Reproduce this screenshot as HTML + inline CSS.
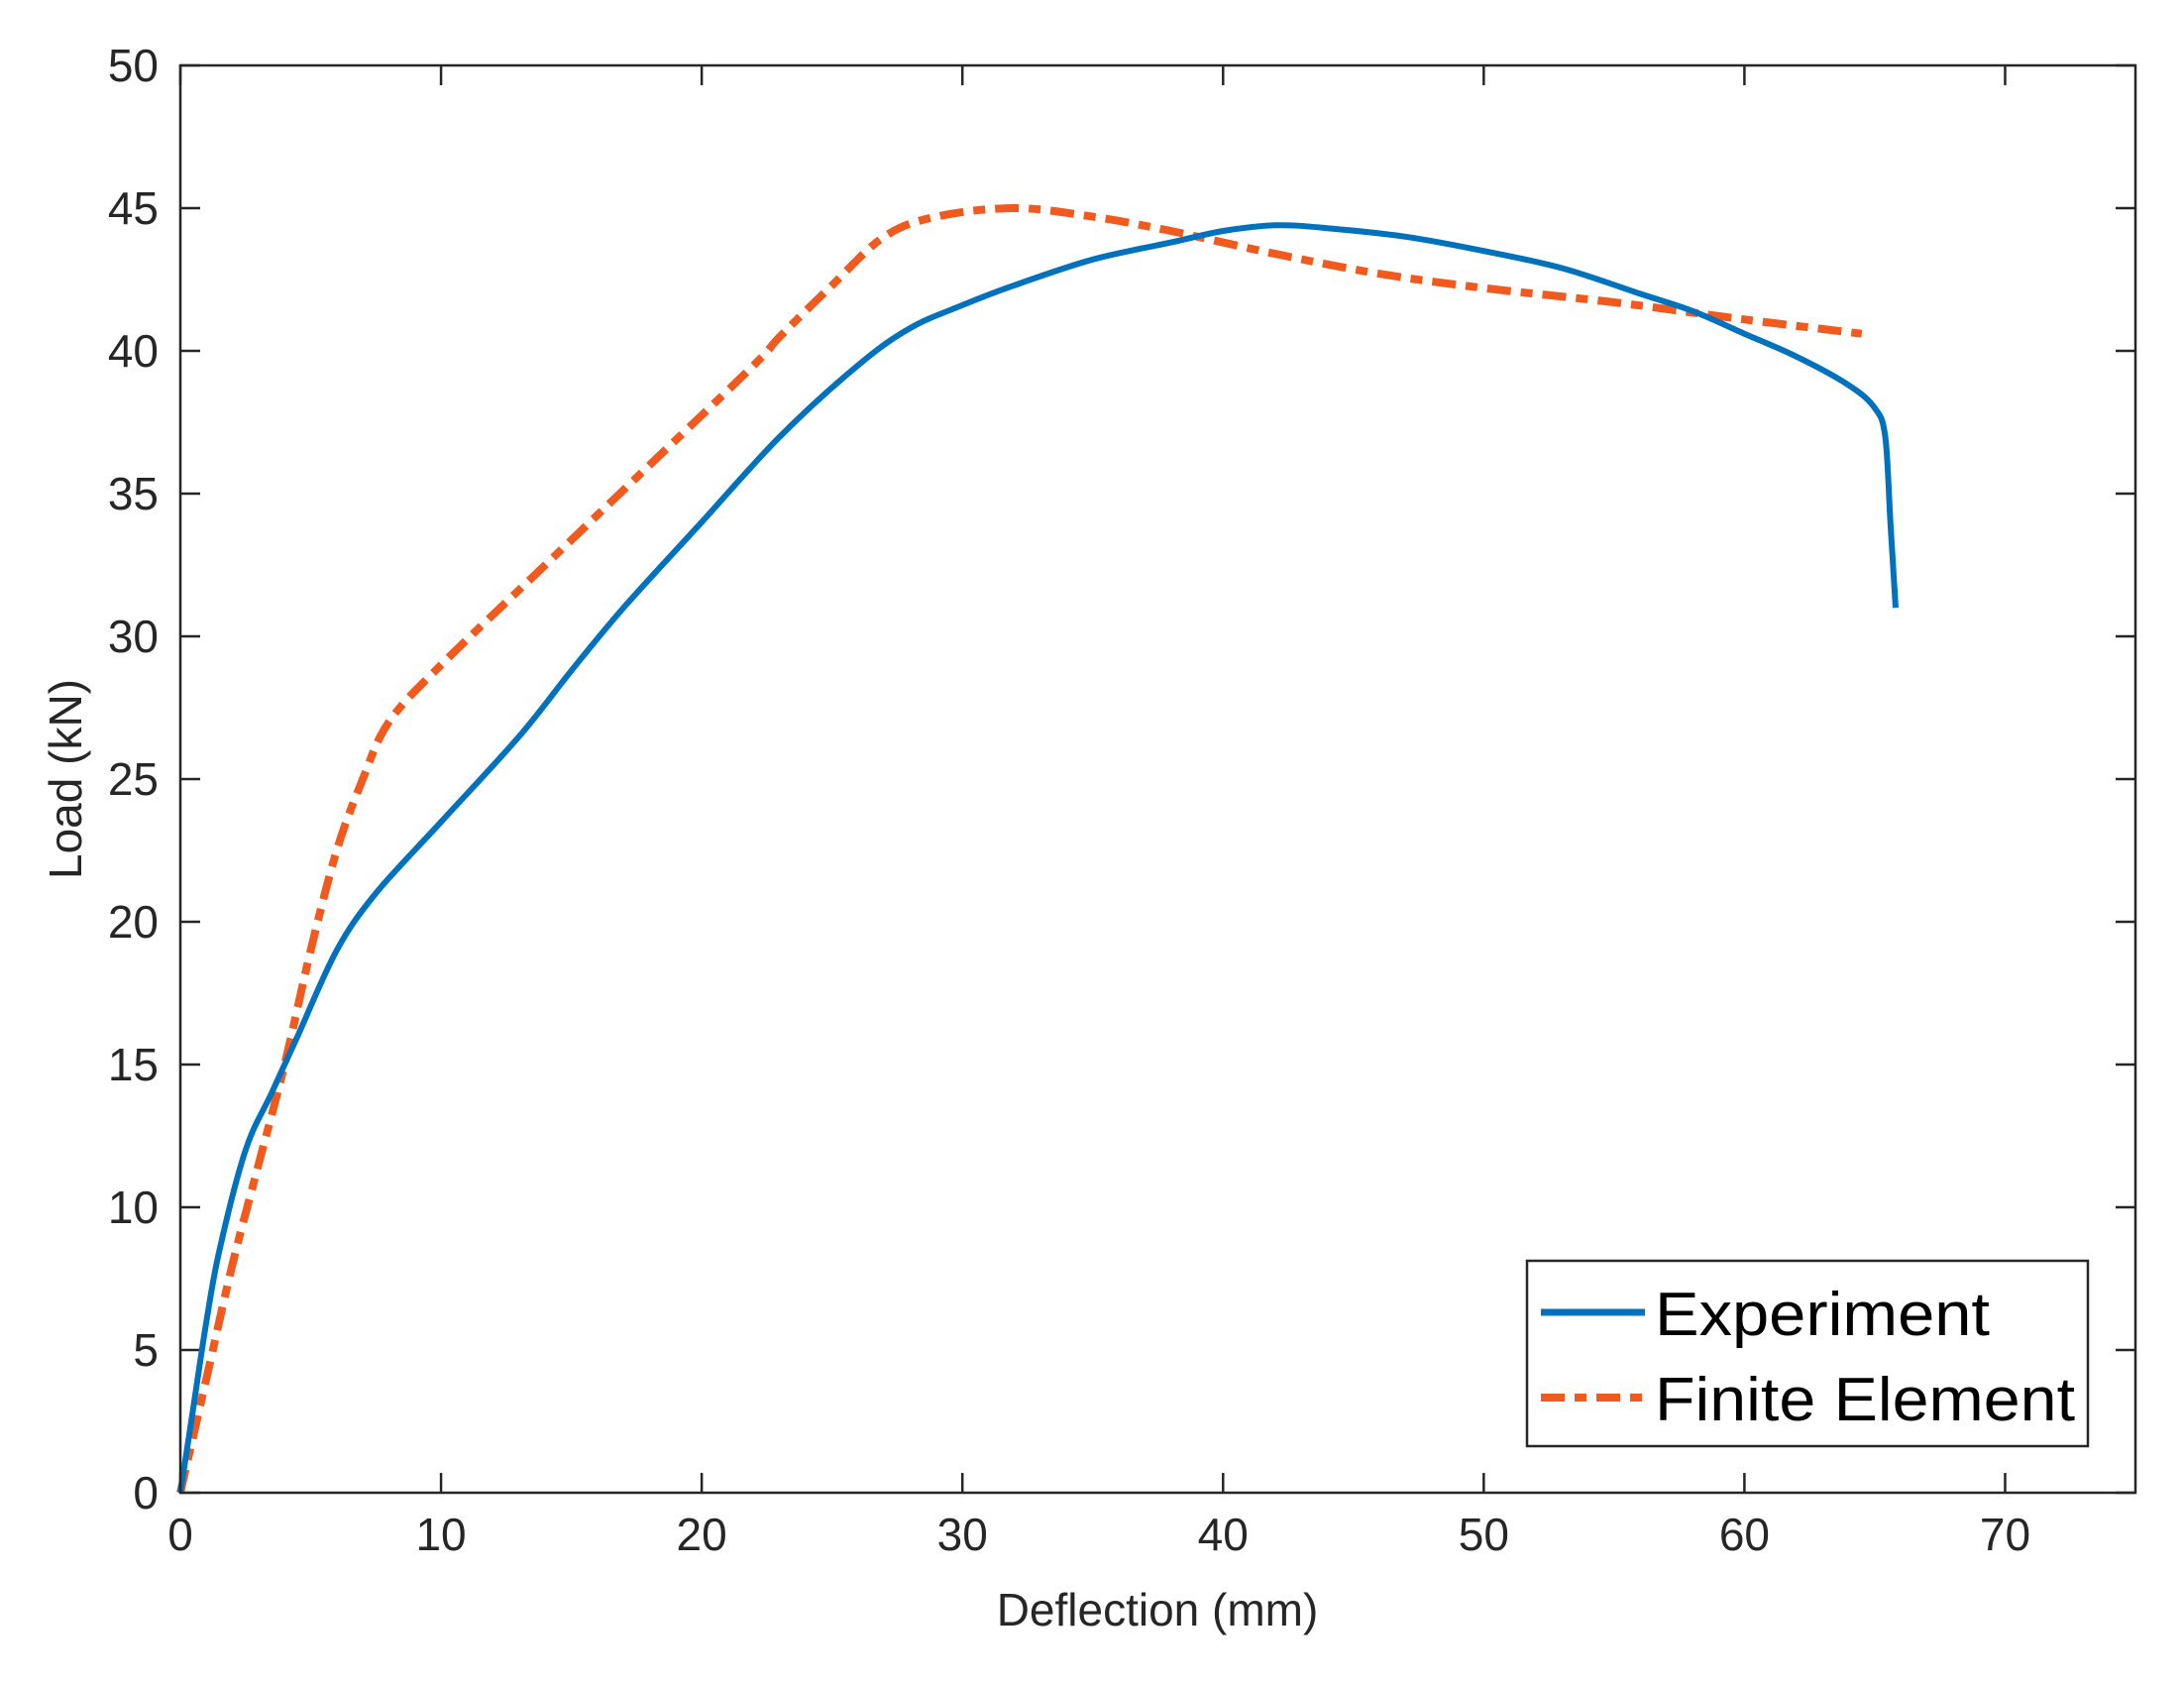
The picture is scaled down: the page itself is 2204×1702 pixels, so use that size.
<!DOCTYPE html>
<html><head><meta charset="utf-8"><style>
html,body{margin:0;padding:0;background:#fff;width:2204px;height:1702px;overflow:hidden}
text{font-family:"Liberation Sans",Arial,sans-serif}
</style></head><body>
<svg id="chart" width="2204" height="1702" xmlns="http://www.w3.org/2000/svg">
<rect width="2204" height="1702" fill="#fff"/>
<g id="grid"></g>
<g id="series"></g>
<rect x="182" y="66" width="1973" height="1440" fill="none" stroke="#262626" stroke-width="2.5"/>
<text x="1168" y="1640" font-size="46" fill="#262626" text-anchor="middle">Deflection (mm)</text>
<text transform="translate(82,786) rotate(-90)" font-size="46" fill="#262626" text-anchor="middle">Load (kN)</text>
<g>
<rect x="1541" y="1272" width="566" height="187" fill="#fff" stroke="#262626" stroke-width="2.5"/>
<line x1="1555" y1="1324" x2="1660" y2="1324" stroke="#0072BD" stroke-width="7"/>
<text x="1670" y="1347" font-size="62" fill="#000" textLength="338" lengthAdjust="spacingAndGlyphs">Experiment</text>
<line x1="1555" y1="1410" x2="1660" y2="1410" stroke="#F05A1E" stroke-width="8" stroke-dasharray="24,10,12,10"/>
<text x="1670" y="1433" font-size="62" fill="#000" textLength="424" lengthAdjust="spacingAndGlyphs">Finite Element</text>
</g>
</svg>
<script>
const xTicks=[0,10,20,30,40,50,60,70];
const yTicks=[0,5,10,15,20,25,30,35,40,45,50];
const expX=[0,0.5,1,1.5,2.5,3.5,4.5,6,7.5,10,13,15,17,20,23,26,28,30,32,35,38,40,42,44,47,50,53,56,58,60,62,64,65,65.4,65.6,65.8];
const expY=[0,3,6,8.5,12,14,16,19,21,23.5,26.5,28.8,31,34,37,39.5,40.8,41.6,42.3,43.2,43.8,44.2,44.4,44.3,44,43.5,42.9,42,41.4,40.6,39.8,38.8,38,37,34,31];
const feX=[0,1,2,3,4,5,6,7,8,10,14,18,22,23,25,27,29,32,35,38,42,46,50,55,60,64.5];
const feY=[0,4,8,11.5,15,19,22.5,25,27,29,32.5,36,39.5,40.5,42.3,44,44.7,45,44.7,44.2,43.4,42.7,42.2,41.7,41.1,40.6];
const X0=182,X1=2155,Y0=1506,Y1=66,XMAX=75,YMAX=50;
const sx=v=>X0+(X1-X0)*v/XMAX, sy=v=>Y0-(Y0-Y1)*v/YMAX;
const NS="http://www.w3.org/2000/svg";
const grid=document.getElementById('grid'), series=document.getElementById('series');
function mk(tag,attrs,parent){const e=document.createElementNS(NS,tag);for(const k in attrs)e.setAttribute(k,attrs[k]);parent.appendChild(e);return e;}
xTicks.forEach(t=>{
  const x=sx(t);
  const a=mk('line',{x1:x,y1:Y0,x2:x,y2:Y0-20,stroke:'#262626','stroke-width':2.5},grid);
  
  
  const b=mk('line',{x1:x,y1:Y1,x2:x,y2:Y1+20,stroke:'#262626','stroke-width':2.5},grid);
  
  
  const l=mk('text',{x:x,y:Y0+58,'font-size':46,fill:'#262626','text-anchor':'middle'},grid);
  l.textContent=t;
  
  
});
yTicks.forEach(t=>{
  const y=sy(t);
  const a=mk('line',{x1:X0,y1:y,x2:X0+20,y2:y,stroke:'#262626','stroke-width':2.5},grid);
  
  
  const b=mk('line',{x1:X1,y1:y,x2:X1-20,y2:y,stroke:'#262626','stroke-width':2.5},grid);
  
  
  const l=mk('text',{x:X0-22,y:y+16,'font-size':46,fill:'#262626','text-anchor':'end'},grid);
  l.textContent=t;
  
  
});
function path(xs,ys){
  const p=xs.map((v,i)=>[sx(v),sy(ys[i])]);
  let d='M'+p[0][0].toFixed(1)+','+p[0][1].toFixed(1);
  for(let i=0;i<p.length-1;i++){
    const p0=p[Math.max(i-1,0)],p1=p[i],p2=p[i+1],p3=p[Math.min(i+2,p.length-1)];
    const c1=[p1[0]+(p2[0]-p0[0])/6,p1[1]+(p2[1]-p0[1])/6];
    const c2=[p2[0]-(p3[0]-p1[0])/6,p2[1]-(p3[1]-p1[1])/6];
    d+='C'+c1.map(n=>n.toFixed(1)).join(',')+' '+c2.map(n=>n.toFixed(1)).join(',')+' '+p2[0].toFixed(1)+','+p2[1].toFixed(1);
  }
  return d;
}
const fe=mk('path',{d:path(feX,feY),fill:'none',stroke:'#F05A1E','stroke-width':8,'stroke-dasharray':'24,10,12,10','stroke-linejoin':'round'},series);


const ex=mk('path',{d:path(expX,expY),fill:'none',stroke:'#0072BD','stroke-width':6,'stroke-linejoin':'round'},series);


</script>
</body></html>
